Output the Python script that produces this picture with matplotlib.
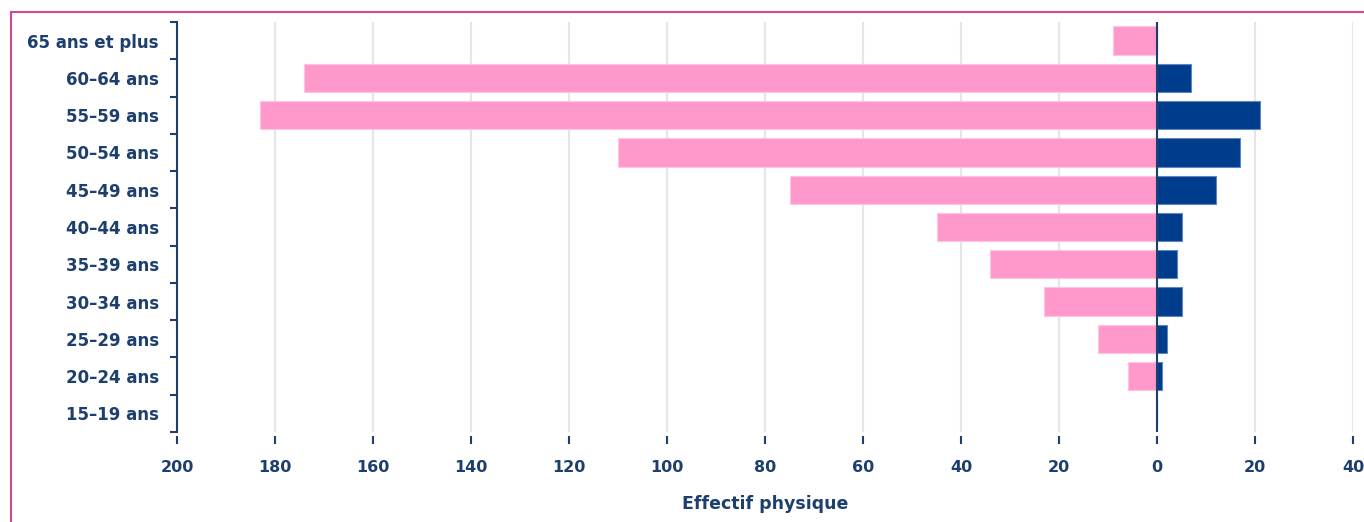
import numpy as np
import matplotlib.pyplot as plt
from matplotlib.patches import Rectangle
from matplotlib.ticker import FixedLocator, FuncFormatter

# age groups, from top to bottom
tranches = ['65 ans et plus', '60–64 ans', '55–59 ans', '50–54 ans', '45–49 ans',
            '40–44 ans', '35–39 ans', '30–34 ans', '25–29 ans', '20–24 ans', '15–19 ans']
femmes = [9, 174, 183, 110, 75, 45, 34, 23, 12, 6, 0]
hommes = [0, 7, 21, 17, 12, 5, 4, 5, 2, 1, 0]
x_ticks = [-200, -180, -160, -140, -120, -100, -80, -60, -40, -20, 0, 20, 40]

navy_txt = '#1d3f6e'
rose = '#ff99cc'
bleu = '#003c8c'

fig = plt.figure(figsize=(13.64, 5.22), dpi=100)
ax = fig.add_axes([177 / 1364, 1 - 432 / 522, (1353 - 177) / 1364, 410 / 522])

# pink frame around the figure (runs off the right and bottom edges)
fig.patches.append(Rectangle((11 / 1364, -0.1), 1.2, 1 - 12 / 522 + 0.1,
                             transform=fig.transFigure, fill=False,
                             edgecolor='#d9468f', linewidth=1.5))

n = len(tranches)
y = np.arange(n)[::-1]

ax.barh(y, [-v for v in femmes], height=0.76, color=rose, edgecolor='#ffc4e0', linewidth=0.8, zorder=3)
ax.barh(y, hommes, height=0.76, color=bleu, edgecolor='#5f86c0', linewidth=0.8, zorder=3)

ax.set_xlim(-200, 40)
ax.set_ylim(-0.5, n - 0.5)

# grid and zero line
for t in x_ticks:
    ax.axvline(t, color='#e6e6e6', linewidth=1.5, zorder=1)
ax.axvline(0, color=navy_txt, linewidth=1.5, zorder=4)

for s in ['top', 'right', 'bottom']:
    ax.spines[s].set_visible(False)
ax.spines['left'].set_color(navy_txt)
ax.spines['left'].set_linewidth(1.5)
ax.spines['left'].set_zorder(5)
ax.spines['bottom'].set_position(('outward', 3))

ax.xaxis.set_major_locator(FixedLocator(x_ticks))
ax.xaxis.set_major_formatter(FuncFormatter(lambda v, p: f'{abs(int(v))}'))
ax.tick_params(axis='x', length=5.5, width=1.5, color=navy_txt, pad=12,
               labelsize=11.5, labelcolor=navy_txt)
for lab in ax.get_xticklabels():
    lab.set_fontweight('bold')

# y: ticks at band boundaries, labels at centres
ax.yaxis.set_major_locator(FixedLocator(np.arange(-0.5, n, 1.0)))
ax.yaxis.set_major_formatter(FuncFormatter(lambda v, p: ''))
ax.yaxis.set_minor_locator(FixedLocator(y))
ax.set_yticklabels(tranches, minor=True)
ax.tick_params(axis='y', which='major', length=5, width=1.5, color=navy_txt)
ax.tick_params(axis='y', which='minor', length=0, pad=13, labelsize=12, labelcolor=navy_txt)
for lab in ax.get_yticklabels(minor=True):
    lab.set_fontweight('bold')

ax.set_xlabel('Effectif physique', fontsize=12.5, fontweight='bold', color=navy_txt, labelpad=14)

fig.savefig('out.png', dpi=100)
